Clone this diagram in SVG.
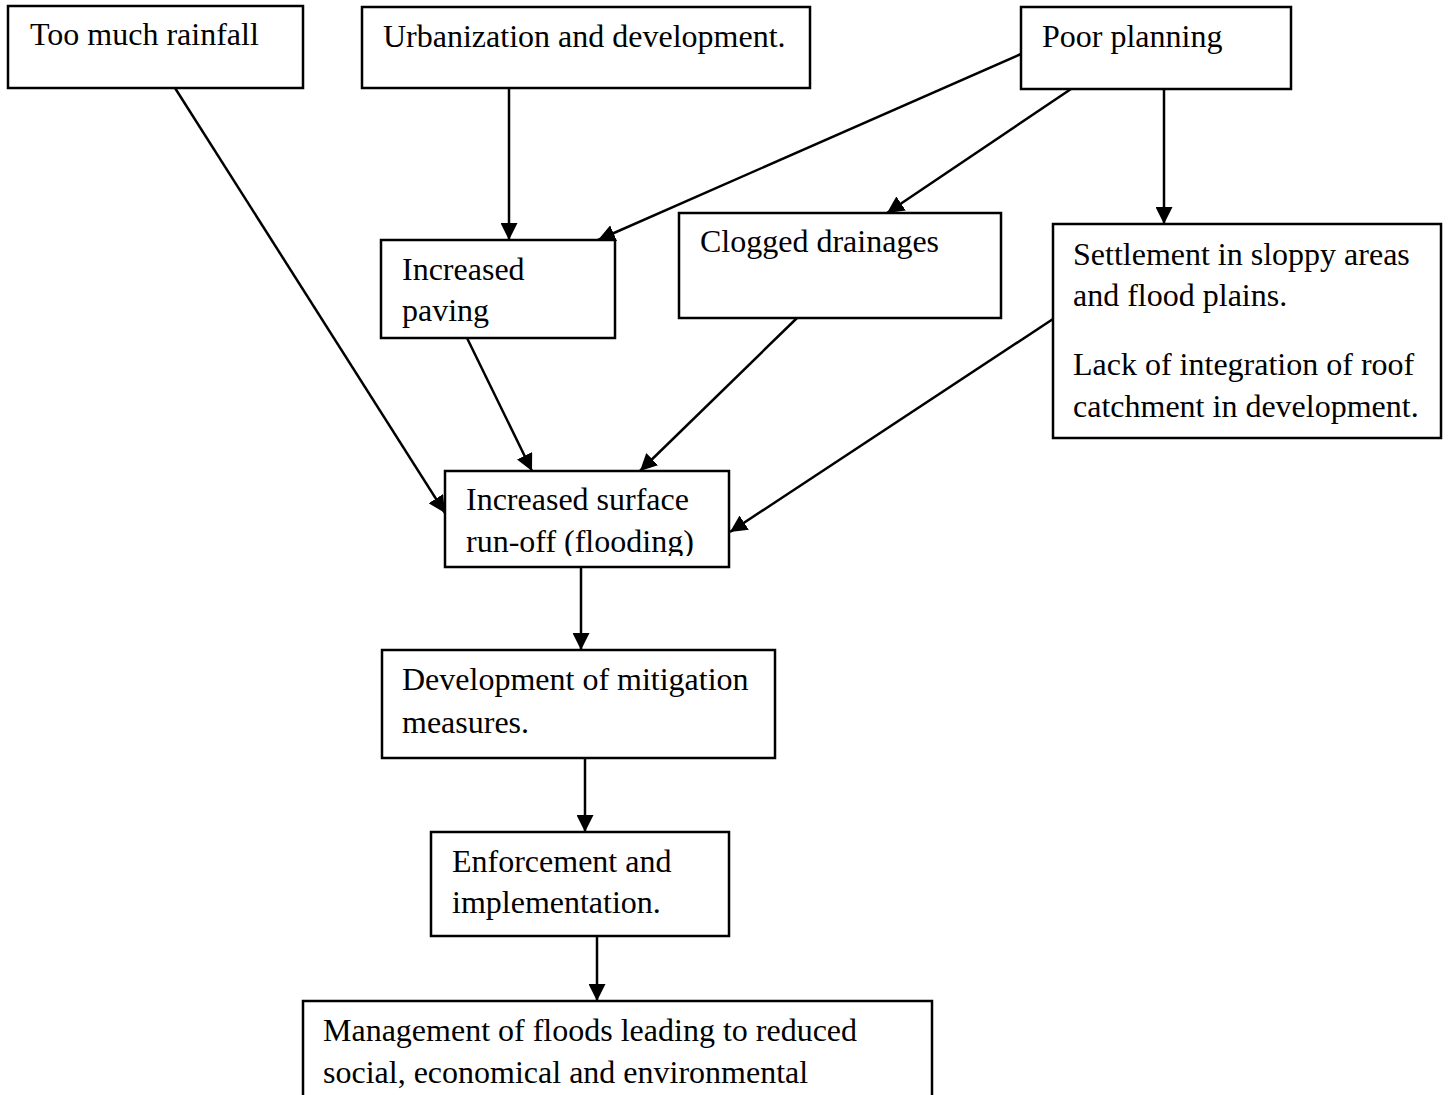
<svg xmlns="http://www.w3.org/2000/svg" width="1450" height="1095" viewBox="0 0 1450 1095">
<style>
rect.box{fill:#fff;stroke:#000;stroke-width:2.5}
text{font-family:"Liberation Serif","Times New Roman",serif;font-size:32px;fill:#000}
.conn line{stroke:#000;stroke-width:2.5}
</style>
<defs>
<marker id="ah" markerUnits="userSpaceOnUse" markerWidth="17" markerHeight="17" viewBox="0 0 17 17" refX="17" refY="8.5" orient="auto">
<path d="M0,0 L17,8.5 L0,17 z" fill="#000"/>
</marker>
<clipPath id="clipRun"><rect x="445" y="471" width="284" height="85"/></clipPath>
</defs>
<rect width="1450" height="1095" fill="#fff"/>
<g class="conn" id="connectors">
<line x1="175" y1="88" x2="445" y2="513" marker-end="url(#ah)"/>
<line x1="509" y1="88" x2="509" y2="240" marker-end="url(#ah)"/>
<line x1="1021" y1="54" x2="598" y2="240" marker-end="url(#ah)"/>
<line x1="1071" y1="89" x2="887" y2="213" marker-end="url(#ah)"/>
<line x1="1164" y1="89" x2="1164" y2="224" marker-end="url(#ah)"/>
<line x1="467" y1="338" x2="532" y2="471" marker-end="url(#ah)"/>
<line x1="797" y1="318" x2="640" y2="471" marker-end="url(#ah)"/>
<line x1="1053" y1="319" x2="730" y2="532" marker-end="url(#ah)"/>
<line x1="581" y1="567" x2="581" y2="650" marker-end="url(#ah)"/>
<line x1="585" y1="758" x2="585" y2="832" marker-end="url(#ah)"/>
<line x1="597" y1="936" x2="597" y2="1001" marker-end="url(#ah)"/>
</g>
<g id="n-rainfall"><rect class="box" x="8" y="6" width="295" height="82"/><text x="30" y="45">Too much rainfall</text></g>
<g id="n-urban"><rect class="box" x="362" y="7" width="448" height="81"/><text x="383" y="47">Urbanization and development.</text></g>
<g id="n-poor"><rect class="box" x="1021" y="7" width="270" height="82"/><text x="1042" y="47">Poor planning</text></g>
<g id="n-paving"><rect class="box" x="381" y="240" width="234" height="98"/><text x="402" y="280">Increased</text><text x="402" y="321">paving</text></g>
<g id="n-clogged"><rect class="box" x="679" y="213" width="322" height="105"/><text x="700" y="252">Clogged drainages</text></g>
<g id="n-settle"><rect class="box" x="1053" y="224" width="388" height="214"/><text x="1073" y="265">Settlement in sloppy areas</text><text x="1073" y="306">and flood plains.</text><text x="1073" y="375">Lack of integration of roof</text><text x="1073" y="417">catchment in development.</text></g>
<g id="n-runoff"><rect class="box" x="445" y="471" width="284" height="96"/><g clip-path="url(#clipRun)"><text x="466" y="510">Increased surface</text><text x="466" y="552">run-off (flooding)</text></g></g>
<g id="n-mitig"><rect class="box" x="382" y="650" width="393" height="108"/><text x="402" y="690">Development of mitigation</text><text x="402" y="733">measures.</text></g>
<g id="n-enforce"><rect class="box" x="431" y="832" width="298" height="104"/><text x="452" y="872">Enforcement and</text><text x="452" y="913">implementation.</text></g>
<g id="n-manage"><rect class="box" x="303" y="1001" width="629" height="120"/><text x="323" y="1041">Management of floods leading to reduced</text><text x="323" y="1083">social, economical and environmental</text></g>
</svg>
